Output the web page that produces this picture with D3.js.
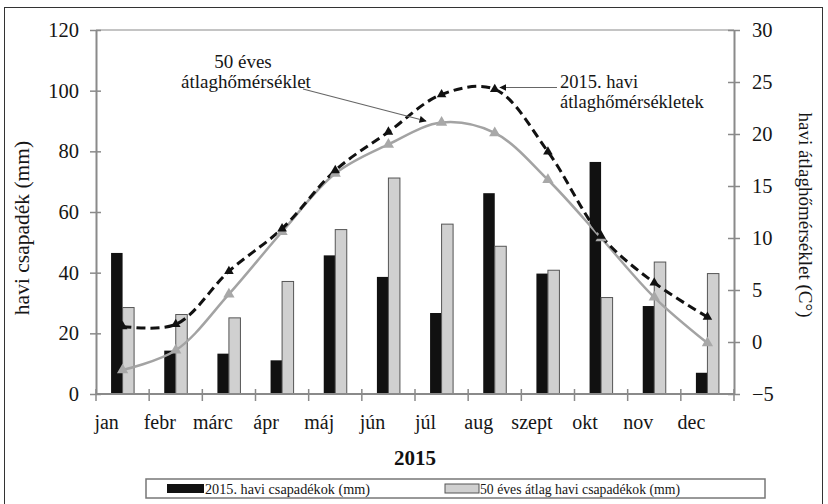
<!DOCTYPE html>
<html>
<head>
<meta charset="utf-8">
<script src="https://cdn.jsdelivr.net/npm/d3@7"></script>
<style>
  body { margin: 0; background: #fff; }
  svg, svg text { font-family: "Liberation Serif", "DejaVu Serif", serif; }
</style>
</head>
<body>
<svg id="chart" width="828" height="504"></svg>
<script>
const months = ["jan", "febr", "márc", "ápr", "máj", "jún", "júl", "aug", "szept", "okt", "nov", "dec"];
const rain2015 = [46.5, 14.3, 13.3, 11.1, 45.7, 38.6, 26.7, 66.2, 39.7, 76.5, 29, 7];
const rain50 = [28.5, 26.2, 25.1, 37.1, 54.2, 71.2, 56, 48.7, 40.8, 31.8, 43.5, 39.7];
const temp2015 = [1.5, 1.7, 6.8, 10.9, 16.5, 20.2, 23.8, 24.3, 18.3, 10.2, 5.7, 2.4];
const temp50 = [-2.7, -0.8, 4.6, 10.6, 16.2, 19.0, 21.1, 20.1, 15.6, 10.0, 4.3, -0.1];
const leftTicks = [0, 20, 40, 60, 80, 100, 120];
const rightTicks = [-5, 0, 5, 10, 15, 20, 25, 30];

const svg = d3.select("#chart");
const margin = { top: 30, right: 94, bottom: 110, left: 96 };
const width = 828 - margin.left - margin.right;
const height = 504 - margin.top - margin.bottom;

// outer frame
svg.append("rect")
    .attr("x", 4.5).attr("y", 7.5).attr("width", 818).attr("height", 500)
    .attr("fill", "none").attr("stroke", "#333").attr("stroke-width", 1);

const chartArea = svg.append("g").attr("transform", `translate(${margin.left},${margin.top})`);

// Create scales
const xScale = d3.scaleBand().domain(months).range([0, width]).padding(0);
const xSub = d3.scaleBand().domain(["a", "b"]).range([0, xScale.bandwidth()]).paddingInner(0).paddingOuter(1.31);
const yLeft = d3.scaleLinear().domain([0, 120]).range([height, 0]);
const yRight = d3.scaleLinear().domain([-5, 30]).range([height, 0]);

const axisColor = "#8a8a8a";
const textColor = "#161616";

// top line of plot area (120)
chartArea.append("line")
    .attr("x1", 0).attr("x2", width)
    .attr("y1", yLeft(120)).attr("y2", yLeft(120))
    .attr("stroke", "#b0b0b0").attr("stroke-width", 1.5);

// bars
chartArea.selectAll(".bar2015")
    .data(months)
    .enter().append("rect")
    .attr("x", d => xScale(d) + xSub("a"))
    .attr("y", (d, i) => yLeft(rain2015[i]))
    .attr("width", xSub.bandwidth())
    .attr("height", (d, i) => height - yLeft(rain2015[i]))
    .attr("fill", "#111");

chartArea.selectAll(".bar50")
    .data(months)
    .enter().append("rect")
    .attr("x", d => xScale(d) + xSub("b"))
    .attr("y", (d, i) => yLeft(rain50[i]))
    .attr("width", xSub.bandwidth())
    .attr("height", (d, i) => height - yLeft(rain50[i]))
    .attr("fill", "#d0d0d0")
    .attr("stroke", "#555")
    .attr("stroke-width", 1);

// Create axes
const leftAxis = chartArea.append("g")
    .call(d3.axisLeft(yLeft).tickValues(leftTicks).tickSize(0).tickPadding(17))
    .attr("font-family", null).attr("font-size", null);
leftAxis.selectAll("text").attr("font-size", 20.5).attr("fill", textColor);
leftAxis.selectAll(".tick line").attr("x1", -6).attr("x2", 5).attr("stroke", axisColor).attr("stroke-width", 1.5);
leftAxis.select(".domain").attr("stroke", axisColor).attr("stroke-width", 2);

const rightAxis = chartArea.append("g")
    .attr("transform", `translate(${width},0)`)
    .call(d3.axisRight(yRight).tickValues(rightTicks).tickSize(0).tickPadding(18))
    .attr("font-family", null).attr("font-size", null);
rightAxis.selectAll("text").attr("font-size", 20.5).attr("fill", textColor);
rightAxis.selectAll(".tick line").attr("x1", -6).attr("x2", 6).attr("stroke", axisColor).attr("stroke-width", 1.5);
rightAxis.select(".domain").attr("stroke", axisColor).attr("stroke-width", 2);

// x axis
const xAxis = chartArea.append("g").attr("transform", `translate(0,${height})`);
xAxis.append("line")
    .attr("x1", 0).attr("x2", width)
    .attr("stroke", axisColor).attr("stroke-width", 2);
const boundaries = months.map(m => xScale(m)).concat([width]);
xAxis.selectAll(".xtick")
    .data(boundaries)
    .enter().append("line")
    .attr("x1", d => d).attr("x2", d => d)
    .attr("y1", -5).attr("y2", 7)
    .attr("stroke", axisColor).attr("stroke-width", 1.5);
xAxis.selectAll(".xlabel")
    .data(months)
    .enter().append("text")
    .attr("x", d => xScale(d) + xScale.bandwidth() / 2 - 16)
    .attr("y", 35)
    .attr("text-anchor", "middle")
    .attr("font-size", 20)
    .attr("fill", textColor)
    .text(d => d);

// temperature lines
const cx = m => xScale(m) + xScale.bandwidth() / 2;
const line = vals => d3.line()
    .x((d, i) => cx(months[i]))
    .y(d => yRight(d))
    .curve(d3.curveCatmullRom.alpha(0.5))(vals);

chartArea.append("path")
    .attr("d", line(temp50))
    .attr("fill", "none")
    .attr("stroke", "#a3a3a3")
    .attr("stroke-width", 2.5);

chartArea.append("path")
    .attr("d", line(temp2015))
    .attr("fill", "none")
    .attr("stroke", "#111")
    .attr("stroke-width", 3)
    .attr("stroke-dasharray", "9,5");

const triangle = d3.symbol().type(d3.symbolTriangle).size(55);
chartArea.selectAll(".m50")
    .data(temp50)
    .enter().append("path")
    .attr("d", triangle)
    .attr("transform", (d, i) => `translate(${cx(months[i])},${yRight(d)})`)
    .attr("fill", "#a8a8a8");
chartArea.selectAll(".m2015")
    .data(temp2015)
    .enter().append("path")
    .attr("d", d3.symbol().type(d3.symbolTriangle).size(40))
    .attr("transform", (d, i) => `translate(${cx(months[i])},${yRight(d)})`)
    .attr("fill", "#111");

// annotations
svg.append("defs").append("marker")
    .attr("id", "arrow")
    .attr("viewBox", "0 0 10 10")
    .attr("refX", 9).attr("refY", 5)
    .attr("markerWidth", 6).attr("markerHeight", 6)
    .attr("orient", "auto")
    .append("path").attr("d", "M0,0 L10,5 L0,10 z").attr("fill", "#111");

svg.append("text").attr("x", 243).attr("y", 68).attr("text-anchor", "middle")
    .attr("font-size", 19).attr("fill", textColor).text("50 éves");
svg.append("text").attr("x", 246).attr("y", 88).attr("text-anchor", "middle")
    .attr("font-size", 19).attr("fill", textColor).text("átlaghőmérséklet");
svg.append("line")
    .attr("x1", 303).attr("y1", 89).attr("x2", 426).attr("y2", 121)
    .attr("stroke", "#666").attr("stroke-width", 1.2)
    .attr("marker-end", "url(#arrow)");

svg.append("text").attr("x", 560).attr("y", 88)
    .attr("font-size", 18.5).attr("fill", textColor).text("2015. havi");
svg.append("text").attr("x", 560).attr("y", 108)
    .attr("font-size", 18.5).attr("fill", textColor).text("átlaghőmérsékletek");
svg.append("line")
    .attr("x1", 557).attr("y1", 87.5).attr("x2", 500).attr("y2", 87.5)
    .attr("stroke", "#666").attr("stroke-width", 1.2)
    .attr("marker-end", "url(#arrow)");

// axis titles
svg.append("text")
    .attr("transform", "translate(29,228) rotate(-90)")
    .attr("text-anchor", "middle")
    .attr("font-size", 21.5).attr("fill", textColor)
    .text("havi csapadék (mm)");
svg.append("text")
    .attr("transform", "translate(799,215) rotate(90)")
    .attr("text-anchor", "middle")
    .attr("font-size", 19).attr("fill", textColor)
    .text("havi átlaghőmérséklet (C°)");

svg.append("text")
    .attr("x", 415).attr("y", 465)
    .attr("text-anchor", "middle")
    .attr("font-size", 21).attr("font-weight", "bold").attr("fill", "#111")
    .text("2015");

// legend
const legend = svg.append("g");
legend.append("rect")
    .attr("x", 146).attr("y", 479).attr("width", 619).attr("height", 19)
    .attr("fill", "#fff").attr("stroke", "#777").attr("stroke-width", 1.5);
legend.append("rect")
    .attr("x", 167).attr("y", 484).attr("width", 37).attr("height", 9)
    .attr("fill", "#111");
legend.append("text")
    .attr("x", 205).attr("y", 494)
    .attr("font-size", 14).attr("fill", textColor)
    .attr("textLength", 165).attr("lengthAdjust", "spacingAndGlyphs")
    .text("2015. havi csapadékok (mm)");
legend.append("rect")
    .attr("x", 445).attr("y", 484).attr("width", 34).attr("height", 9)
    .attr("fill", "#d0d0d0").attr("stroke", "#555");
legend.append("text")
    .attr("x", 480).attr("y", 494)
    .attr("font-size", 14).attr("fill", textColor)
    .attr("textLength", 200).attr("lengthAdjust", "spacingAndGlyphs")
    .text("50 éves átlag havi csapadékok (mm)");
</script>
</body>
</html>
